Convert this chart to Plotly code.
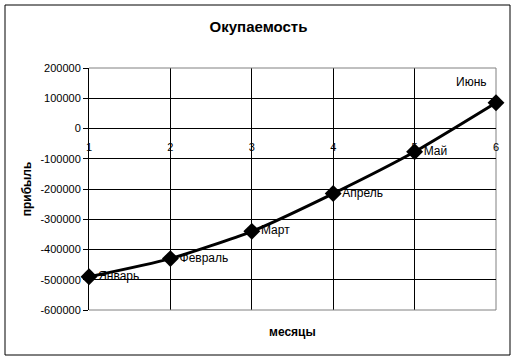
import plotly.graph_objects as go

months = [1, 2, 3, 4, 5, 6]
profit = [-490000, -430000, -340000, -215000, -77000, 85000]
names = ["Январь", "Февраль", "Март", "Апрель", "Май", "Июнь"]
y_ticks = list(range(-600000, 200001, 100000))
x_ticks = [1, 2, 3, 4, 5, 6]

ymin, ymax = -600000, 200000
zero_pos = (0 - ymin) / (ymax - ymin)

FONT = "Liberation Sans, Arial, sans-serif"

# last label sits above-left of its point; the rest to the right
trace_text = names[:-1] + [""]

fig = go.Figure()
fig.add_trace(go.Scatter(
    x=months, y=profit, mode="lines+markers+text",
    text=trace_text, textposition="middle right",
    textfont=dict(family=FONT, size=12, color="black"),
    line=dict(color="black", width=3, shape="spline", smoothing=0.6),
    marker=dict(symbol="diamond", size=13, color="black"),
    cliponaxis=False, showlegend=False,
))

gray = "#808080"
fig.update_layout(
    width=517, height=361,
    margin=dict(l=89, r=21, t=68, b=51),
    paper_bgcolor="white", plot_bgcolor="white",
    font=dict(family=FONT, size=11, color="black"),
    title=dict(text="<b>Окупаемость</b>", x=0.5, xanchor="center",
               y=1 - 27 / 361, yanchor="middle",
               font=dict(family=FONT, size=15, color="black")),
    xaxis=dict(range=[1, 6], tickvals=x_ticks, ticktext=[str(v) for v in x_ticks],
               anchor="free", position=zero_pos, showline=False,
               showgrid=True, gridcolor="black", gridwidth=1,
               zeroline=False, ticks="", ticklabelstandoff=10,
               tickfont=dict(family=FONT, size=11, color="black")),
    yaxis=dict(range=[ymin, ymax], tickvals=y_ticks, ticktext=[str(v) for v in y_ticks],
               showline=True, linecolor="black", linewidth=1,
               ticks="outside", ticklen=5, tickcolor="black",
               showgrid=True, gridcolor="black", gridwidth=1,
               zeroline=True, zerolinecolor="black", zerolinewidth=1,
               tickfont=dict(family=FONT, size=11, color="black"),
               title=dict(text="<b>прибыль</b>", standoff=6,
                          font=dict(family=FONT, size=12, color="black"))),
    shapes=[
        dict(type="line", xref="paper", yref="paper", x0=0, x1=1, y0=1, y1=1,
             line=dict(color=gray, width=1), layer="above"),
        dict(type="line", xref="paper", yref="paper", x0=0, x1=1, y0=0, y1=0,
             line=dict(color=gray, width=1), layer="above"),
        dict(type="line", xref="paper", yref="paper", x0=1, x1=1, y0=0, y1=1,
             line=dict(color=gray, width=1), layer="below"),
        dict(type="rect", xref="paper", yref="paper",
             x0=(5 - 89) / 407, x1=(510 - 89) / 407,
             y0=(310 - 355) / 242, y1=(310 - 5) / 242,
             line=dict(color="black", width=1), fillcolor="rgba(0,0,0,0)"),
    ],
    annotations=[
        dict(text="<b>месяцы</b>", xref="paper", yref="paper", x=0.5,
             y=(310 - 332) / 242, xanchor="center", yanchor="middle",
             showarrow=False, font=dict(family=FONT, size=12, color="black")),
        dict(text=names[-1], xref="x", yref="y", x=months[-1], y=profit[-1],
             xanchor="right", yanchor="middle", xshift=-7, yshift=21,
             showarrow=False, font=dict(family=FONT, size=12, color="black")),
    ],
)

fig.write_html("out.html")
